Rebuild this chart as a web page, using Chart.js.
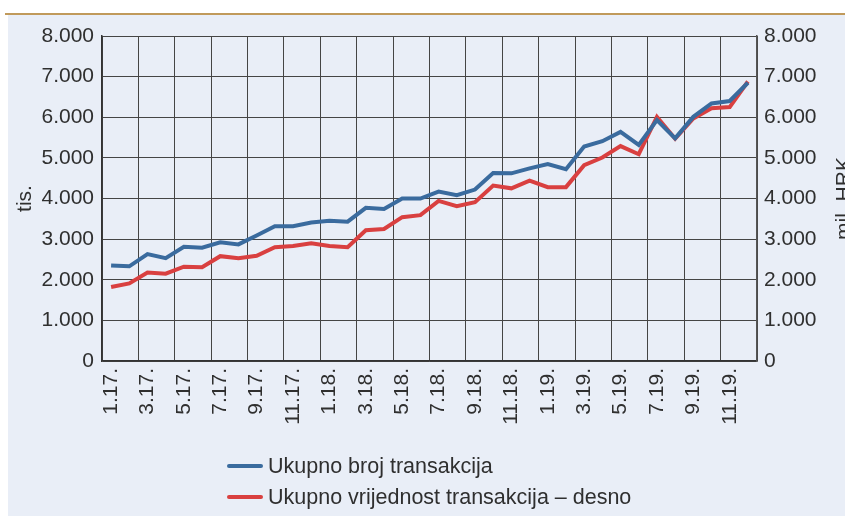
<!DOCTYPE html>
<html>
<head>
<meta charset="utf-8">
<script src="https://cdn.jsdelivr.net/npm/chart.js@4/dist/chart.umd.min.js"></script>
<style>
    body { margin: 0; background: #ffffff; }
    #wrap { position: relative; width: 845px; height: 516px; overflow: hidden; }
    #rule { position: absolute; left: 5px; top: 13px; width: 840px; height: 2px; background: #c09a5b; }
    #panel { position: absolute; left: 8px; top: 15px; width: 837px; height: 501px; background: #e9eef7; }
    #chart { position: absolute; left: 0; top: 0; }
</style>
</head>
<body>
<div id="wrap">
    <div id="rule"></div>
    <div id="panel"></div>
    <canvas id="chart" width="845" height="516"></canvas>
</div>
<script>
// Monthly data, 1.17. - 12.19.
const months = [
    '1.17.', '2.17.', '3.17.', '4.17.', '5.17.', '6.17.', '7.17.', '8.17.', '9.17.', '10.17.', '11.17.', '12.17.',
    '1.18.', '2.18.', '3.18.', '4.18.', '5.18.', '6.18.', '7.18.', '8.18.', '9.18.', '10.18.', '11.18.', '12.18.',
    '1.19.', '2.19.', '3.19.', '4.19.', '5.19.', '6.19.', '7.19.', '8.19.', '9.19.', '10.19.', '11.19.', '12.19.'
];

// Ukupno broj transakcija (tis.) - left axis
const brojTransakcija = [
    2350, 2330, 2630, 2530, 2810, 2790, 2920, 2870, 3090, 3320, 3320, 3410,
    3450, 3430, 3770, 3740, 4000, 4000, 4170, 4080, 4220, 4630, 4620, 4740,
    4850, 4720, 5280, 5410, 5640, 5320, 5930, 5480, 6010, 6340, 6400, 6850
];

// Ukupno vrijednost transakcija (mil. HRK) - right axis
const vrijednostTransakcija = [
    1820, 1910, 2180, 2150, 2320, 2310, 2580, 2530, 2590, 2800, 2830, 2900,
    2830, 2800, 3220, 3250, 3540, 3590, 3940, 3810, 3910, 4320, 4250, 4440,
    4280, 4280, 4820, 5010, 5290, 5090, 6010, 5470, 5970, 6220, 6250, 6880
];

const seriesLabels = ['Ukupno broj transakcija', 'Ukupno vrijednost transakcija \u2013 desno'];
const axisTitles = ['tis.', 'mil. HRK'];

const textColor = '#2f2f2f';
const gridColor = '#454545';
const fontFamily = "'Liberation Sans', Arial, sans-serif";

function formatThousands(v) {
    return String(v).replace(/\B(?=(\d{3})+(?!\d))/g, '.');
}

// right axis title reads bottom-to-top, Chart.js would rotate it the other way
const rightTitlePlugin = {
    id: 'rightTitle',
    afterDraw(chart) {
        const ctx = chart.ctx;
        const area = chart.chartArea;
        ctx.save();
        ctx.translate(850, (area.top + area.bottom) / 2);
        ctx.rotate(-Math.PI / 2);
        ctx.fillStyle = textColor;
        ctx.font = '21px ' + fontFamily;
        ctx.textAlign = 'center';
        ctx.textBaseline = 'alphabetic';
        ctx.fillText(axisTitles[1], 0, 0);
        ctx.restore();
    }
};

// stacked legend, left aligned under the plot
const stackedLegendPlugin = {
    id: 'stackedLegend',
    afterDraw(chart) {
        const ctx = chart.ctx;
        ctx.save();
        chart.data.datasets.forEach((ds, i) => {
            const y = 466 + i * 31;
            ctx.strokeStyle = ds.borderColor;
            ctx.lineWidth = 4;
            ctx.lineCap = 'round';
            ctx.beginPath();
            ctx.moveTo(229, y);
            ctx.lineTo(261, y);
            ctx.stroke();
            ctx.fillStyle = textColor;
            ctx.font = '21.5px ' + fontFamily;
            ctx.textAlign = 'left';
            ctx.textBaseline = 'middle';
            ctx.fillText(ds.label, 268, y + 1);
        });
        ctx.restore();
    }
};

const chart = new Chart(document.getElementById('chart'), {
    type: 'line',
    data: {
        labels: months,
        datasets: [
            {
                label: seriesLabels[0],
                data: brojTransakcija,
                yAxisID: 'y',
                borderColor: '#3a6b9e',
                backgroundColor: '#3a6b9e',
                borderWidth: 4,
                pointRadius: 0,
                tension: 0
            },
            {
                label: seriesLabels[1],
                data: vrijednostTransakcija,
                yAxisID: 'y1',
                borderColor: '#d94040',
                backgroundColor: '#d94040',
                borderWidth: 4,
                pointRadius: 0,
                tension: 0
            }
        ]
    },
    options: {
        responsive: false,
        animation: false,
        layout: { padding: { top: 36, left: 0, right: 0, bottom: 0 } },
        plugins: {
            legend: { display: false },
            tooltip: { enabled: false }
        },
        scales: {
            x: {
                offset: true,
                afterFit(scale) { scale.height = 155; },
                grid: {
                    offset: true,
                    drawTicks: false,
                    lineWidth: 1,
                    color: (c) => (c.index === undefined || c.index % 2 === 0) ? gridColor : 'rgba(0,0,0,0)'
                },
                border: { color: '#333', width: 1.5 },
                ticks: {
                    autoSkip: false,
                    minRotation: 90,
                    maxRotation: 90,
                    padding: 7,
                    color: textColor,
                    font: { family: fontFamily, size: 21 },
                    callback(value, index) {
                        return index % 2 === 0 ? this.getLabelForValue(value) : '';
                    }
                }
            },
            y: {
                position: 'left',
                min: 0,
                max: 8000,
                afterFit(scale) { scale.width = 102; },
                grid: { color: gridColor, lineWidth: 1, drawTicks: false },
                border: { color: '#333', width: 1.5 },
                ticks: {
                    stepSize: 1000,
                    padding: 8,
                    color: textColor,
                    font: { family: fontFamily, size: 21 },
                    callback: (v) => formatThousands(v)
                },
                title: {
                    display: true,
                    text: axisTitles[0],
                    color: textColor,
                    font: { family: fontFamily, size: 21 },
                    padding: { top: 13, bottom: 0 }
                }
            },
            y1: {
                position: 'right',
                min: 0,
                max: 8000,
                afterFit(scale) { scale.width = 88; },
                grid: { display: false, drawTicks: false },
                border: { color: '#555', width: 1.5 },
                ticks: {
                    stepSize: 1000,
                    padding: 7,
                    color: textColor,
                    font: { family: fontFamily, size: 21 },
                    callback: (v) => formatThousands(v)
                }
            }
        }
    },
    plugins: [rightTitlePlugin, stackedLegendPlugin]
});
</script>
</body>
</html>
